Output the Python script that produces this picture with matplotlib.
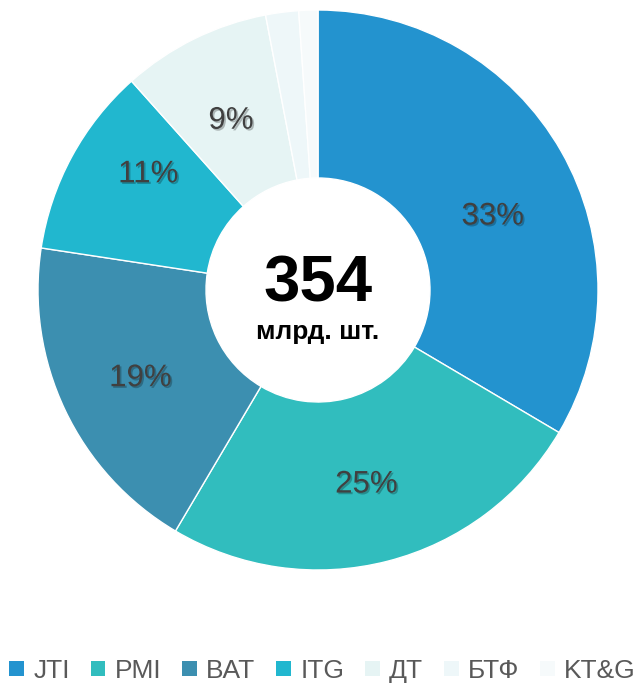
import numpy as np
import matplotlib.pyplot as plt
import matplotlib.patheffects as pe

# market shares, bn sticks
companies = ["JTI", "PMI", "BAT", "ITG", "ДТ", "БТФ", "KT&G"]
shares = [33.5, 25.0, 18.9, 11.0, 8.6, 1.9, 1.1]
share_labels = ["33%", "25%", "19%", "11%", "9%", "", ""]
colors = ["#2393CF", "#31BDBE", "#3C8FB0", "#21B7CF", "#E6F4F4", "#EEF7F9", "#F6FAFB"]
total = "354"
unit = "млрд. шт."

# label nudges in pixels (dx, dy), like the hand-placed labels in the original
nudges = [(2, -25), (-1, -2), (2, -3), (5, 21), (1, -9), (0, 0), (0, 0)]

plt.rcParams['font.family'] = ['Liberation Sans', 'DejaVu Sans']

W, H, R = 639, 686, 280.0
cx, cy = 318, 290  # pie centre in pixels from top-left

fig = plt.figure(figsize=(W / 100, H / 100), dpi=100)
ax = fig.add_axes([0, 0, 1, 1])

wedges, _ = ax.pie(shares, colors=colors, startangle=90, counterclock=False,
                   radius=1.0, wedgeprops=dict(width=0.6, edgecolor='white', linewidth=1))
ax.set_aspect('auto')
ax.set_xlim(-cx / R, (W - cx) / R)
ax.set_ylim(-(H - cy) / R, cy / R)
ax.axis('off')

# percentage labels with soft shadow
ang = 90.0
for v, lab, (dx, dy) in zip(shares, share_labels, nudges):
    mid = ang - v * 3.6 / 2
    ang -= v * 3.6
    if not lab:
        continue
    r = 0.71
    x = r * np.cos(np.radians(mid)) + dx / R
    y = r * np.sin(np.radians(mid)) + dy / R
    ax.text(x, y, lab, ha='center', va='center', fontsize=22.5, color='#404040',
            path_effects=[pe.SimplePatchShadow(offset=(1.2, -1.2), shadow_rgbFace='black', alpha=0.25),
                          pe.Normal()])

ax.text(0.0, 0.02, total, ha='center', va='center', fontsize=47, fontweight='bold', color='black')
ax.text(0.0, -0.15, unit, ha='center', va='center', fontsize=19, fontweight='bold', color='black')

handles = [plt.Rectangle((0, 0), 1, 1, facecolor=c, edgecolor='none') for c in colors]
fig.legend(handles, companies, loc='lower center', bbox_to_anchor=(0.505, -0.03), ncol=7,
           frameon=False, fontsize=19, labelcolor='#595959', handlelength=0.55, handleheight=0.55,
           handletextpad=0.35, columnspacing=0.8)

fig.savefig("out.png", dpi=100)
